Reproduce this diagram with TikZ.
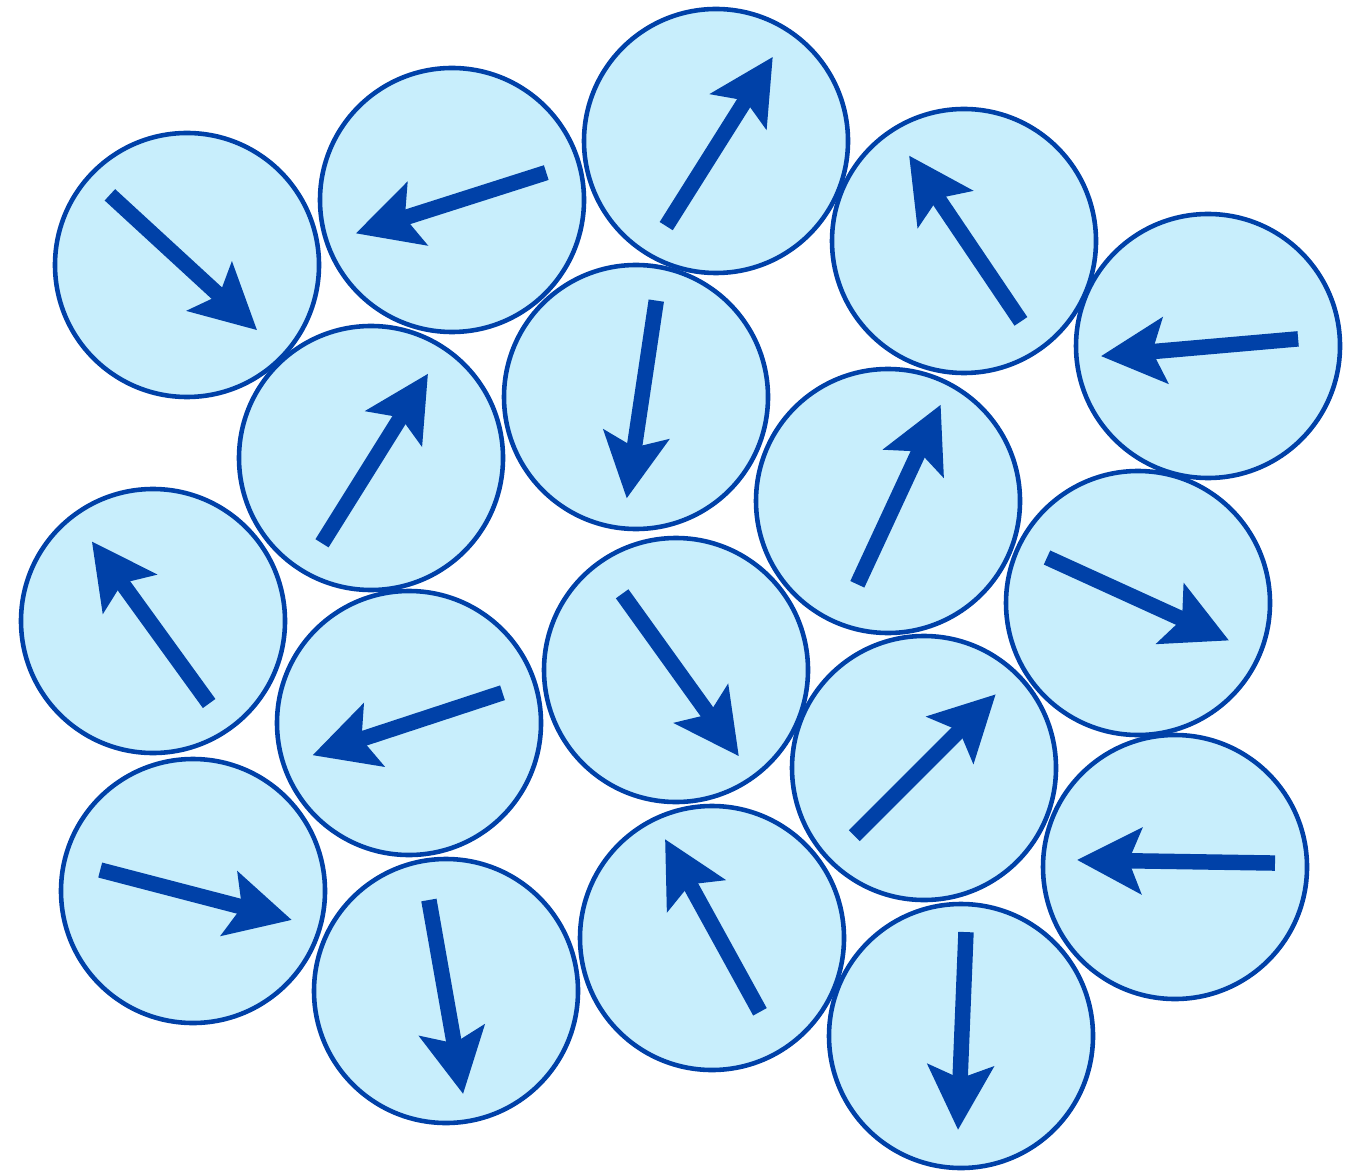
\documentclass[tikz,border=0pt]{standalone}
\usetikzlibrary{arrows.meta}
\definecolor{spinblue}{HTML}{0041A8}
\definecolor{spinfill}{HTML}{C8EEFC}

\begin{document}
\begin{tikzpicture}[x=0.2mm,y=-0.2mm,
  spin/.style={circle,draw=spinblue,line width=2.6pt,fill=spinfill,minimum size=5.28cm,inner sep=0pt},
  spinarrow/.style={draw=spinblue,line width=8.8pt,-{Stealth[length=1.28cm,width=1.3cm,inset=0.25cm]}}]
\useasboundingbox (0,0) rectangle (1356,1174);
% grains
\node[spin] (s1) at (187,265) {};
\node[spin] (s2) at (452,200) {};
\node[spin] (s3) at (716,141) {};
\node[spin] (s4) at (964,241) {};
\node[spin] (s5) at (1208,346) {};
\node[spin] (s6) at (371,458) {};
\node[spin] (s7) at (636,397) {};
\node[spin] (s8) at (888,501) {};
\node[spin] (s9) at (1138,603) {};
\node[spin] (s10) at (153,621) {};
\node[spin] (s11) at (409,723) {};
\node[spin] (s12) at (676,670) {};
\node[spin] (s13) at (924,768) {};
\node[spin] (s14) at (1175,867) {};
\node[spin] (s15) at (193,891) {};
\node[spin] (s16) at (446,991) {};
\node[spin] (s17) at (712,938) {};
\node[spin] (s18) at (961,1036) {};
% middle of each moment
\coordinate (m1) at (183.5,262.5);
\coordinate (m2) at (451,203);
\coordinate (m3) at (719.5,141.5);
\coordinate (m4) at (965,238.5);
\coordinate (m5) at (1199.5,347.5);
\coordinate (m6) at (375,458.5);
\coordinate (m7) at (641.5,399.5);
\coordinate (m8) at (899,494.5);
\coordinate (m9) at (1138,599);
\coordinate (m10) at (150.5,622.5);
\coordinate (m11) at (407.5,724);
\coordinate (m12) at (680.5,675);
\coordinate (m13) at (925,765);
\coordinate (m14) at (1176,861.5);
\coordinate (m15) at (196,895);
\coordinate (m16) at (446,997);
\coordinate (m17) at (712.5,925.5);
\coordinate (m18) at (962,1031);
% magnetic moments
\draw[spinarrow] ([shift={(137.4:2cm)}]m1) -- ([shift={(-42.6:2cm)}]m1);
\draw[spinarrow] ([shift={(17.7:2cm)}]m2) -- ([shift={(197.7:2cm)}]m2);
\draw[spinarrow] ([shift={(237.8:2cm)}]m3) -- ([shift={(57.8:2cm)}]m3);
\draw[spinarrow] ([shift={(304:2cm)}]m4) -- ([shift={(124:2cm)}]m4);
\draw[spinarrow] ([shift={(5:1.98cm)}]m5) -- ([shift={(185:1.98cm)}]m5);
\draw[spinarrow] ([shift={(238:2cm)}]m6) -- ([shift={(58:2cm)}]m6);
\draw[spinarrow] ([shift={(81.5:2cm)}]m7) -- ([shift={(261.5:2cm)}]m7);
\draw[spinarrow] ([shift={(245.1:1.98cm)}]m8) -- ([shift={(65.1:1.98cm)}]m8);
\draw[spinarrow] ([shift={(155.5:2cm)}]m9) -- ([shift={(-24.5:2cm)}]m9);
\draw[spinarrow] ([shift={(305.9:2cm)}]m10) -- ([shift={(125.9:2cm)}]m10);
\draw[spinarrow] ([shift={(18.2:2cm)}]m11) -- ([shift={(198.2:2cm)}]m11);
\draw[spinarrow] ([shift={(125.7:2cm)}]m12) -- ([shift={(-54.3:2cm)}]m12);
\draw[spinarrow] ([shift={(225:2cm)}]m13) -- ([shift={(45:2cm)}]m13);
\draw[spinarrow] ([shift={(-0.9:1.98cm)}]m14) -- ([shift={(179.1:1.98cm)}]m14);
\draw[spinarrow] ([shift={(165.4:1.98cm)}]m15) -- ([shift={(-14.6:1.98cm)}]m15);
\draw[spinarrow] ([shift={(100:1.97cm)}]m16) -- ([shift={(-80:1.97cm)}]m16);
\draw[spinarrow] ([shift={(298.8:1.97cm)}]m17) -- ([shift={(118.8:1.97cm)}]m17);
\draw[spinarrow] ([shift={(87.7:1.98cm)}]m18) -- ([shift={(267.7:1.98cm)}]m18);
\end{tikzpicture}
\end{document}
